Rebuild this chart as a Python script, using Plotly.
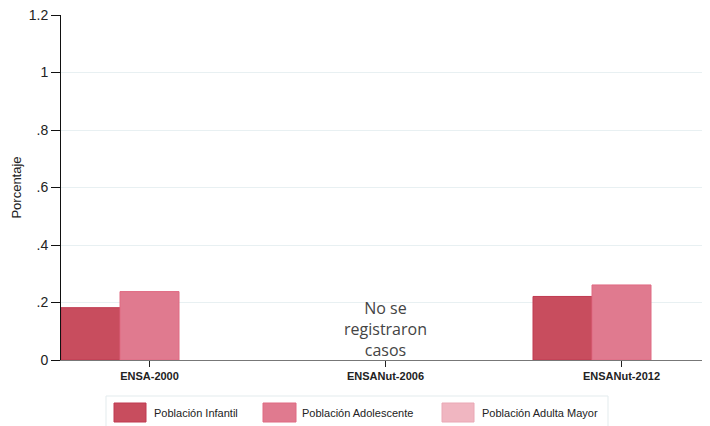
import plotly.graph_objects as go

# data
surveys = ["ENSA-2000", "ENSANut-2006", "ENSANut-2012"]
infantil = [0.182, None, 0.221]
adolescente = [0.238, None, 0.261]
adulta_mayor = [None, None, None]
series_names = ["Población Infantil", "Población Adolescente", "Población Adulta Mayor"]
y_ticks = [0, 0.2, 0.4, 0.6, 0.8, 1, 1.2]
y_tick_labels = ["0", ".2", ".4", ".6", ".8", "1", "1.2"]
note = "No se<br>registraron<br>casos"

fill_colors = ["#c84d5e", "#e07a8f", "#f0b6c1"]
line_colors = ["#c03a50", "#e06a82", "#eaa8b5"]

# page body has an 8px margin, so the figure is shrunk to fit the window
OFF = 8
W, H = 710 - OFF, 426 - OFF
L, R, T, B = 61 - OFF, 0, 15 - OFF, 66
PW, PH = W - L - R, H - T - B


def px_x(px):
    # window pixel -> paper fraction
    return (px - OFF - L) / PW


def px_y(py):
    return (H - B - (py - OFF)) / PH


fig = go.Figure()
for name, vals, fc, lc in zip(series_names, [infantil, adolescente, adulta_mayor], fill_colors, line_colors):
    fig.add_trace(go.Bar(
        x=surveys, y=vals, name=name,
        marker=dict(color=fc, line=dict(color=lc, width=1)),
        showlegend=False,
    ))

fig.add_annotation(
    x=surveys[1], y=0.108, text=note, showarrow=False,
    font=dict(family="Open Sans", size=16, color="#444444"),
    xanchor="center", yanchor="middle",
)

# legend drawn by hand so the swatches match the wide boxes of the original
shapes = [dict(type="rect", xref="paper", yref="paper",
               x0=px_x(106), x1=px_x(608), y0=px_y(429), y1=px_y(396),
               line=dict(color="#e3ebed", width=1), fillcolor="white", layer="below")]
swatch_x = [(114, 146), (263, 296), (442, 474)]
text_x = [152, 300, 480]
for (a, b), tx, name, fc, lc in zip(swatch_x, text_x, series_names, fill_colors, line_colors):
    shapes.append(dict(type="rect", xref="paper", yref="paper",
                       x0=px_x(a), x1=px_x(b), y0=px_y(422), y1=px_y(403),
                       line=dict(color=lc, width=1), fillcolor=fc))
    fig.add_annotation(x=px_x(tx), y=px_y(412.5), xref="paper", yref="paper",
                       text=name, showarrow=False, xanchor="left", yanchor="middle",
                       font=dict(family="Liberation Sans", size=11, color="#222222"))

fig.update_layout(
    width=W, height=H,
    margin=dict(l=L, r=R, t=T, b=B, autoexpand=False),
    paper_bgcolor="white", plot_bgcolor="white",
    barmode="group", bargap=0.25, bargroupgap=0,
    shapes=shapes,
    font=dict(family="Liberation Sans", color="#222222"),
)
fig.update_xaxes(
    range=[-0.375, 2.375], showgrid=False, automargin=False,
    showline=True, linecolor="#777777", linewidth=1,
    ticks="outside", ticklen=6, tickcolor="#222222",
    tickfont=dict(size=11, weight="bold", color="#222222"),
)
fig.update_yaxes(
    range=[0, 1.2], tickvals=y_ticks, ticktext=y_tick_labels, automargin=False,
    ticklabeloverflow="allow",
    showline=True, linecolor="#111111", linewidth=1,
    ticks="outside", ticklen=9, tickcolor="#111111",
    showgrid=True, gridcolor="#e8f0f2", gridwidth=1, zeroline=False,
    tickfont=dict(size=14, color="#222222"),
    title=dict(text="Porcentaje", font=dict(size=13, color="#222222"), standoff=4),
)

fig.write_html("out.html")
